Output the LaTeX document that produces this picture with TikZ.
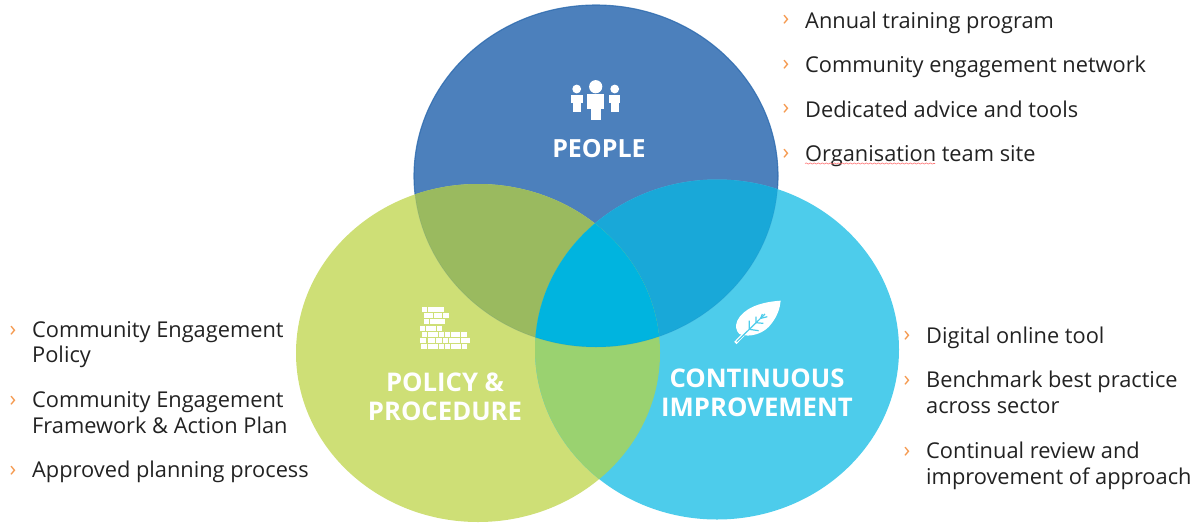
\documentclass[tikz,border=0pt]{standalone}
\usepackage{fontspec}
\setmainfont{Open Sans}
\usetikzlibrary{decorations.pathmorphing}
\definecolor{cblue}{HTML}{4C80BC}
\definecolor{cgreen}{HTML}{CEDF76}
\definecolor{ccyan}{HTML}{4DCCEB}
\definecolor{cbg}{HTML}{9ABA5F}
\definecolor{cbc}{HTML}{19A8D8}
\definecolor{cgc}{HTML}{9AD270}
\definecolor{cmid}{HTML}{00B4DF}
\definecolor{cedge}{HTML}{2A69AE}
\definecolor{corange}{HTML}{F59A50}
\definecolor{ctext}{HTML}{222222}
\tikzset{
  item/.style={anchor=base west,inner sep=0pt,text=ctext,font=\fontsize{21.8}{25}\selectfont},
  tick/.style={anchor=center,inner sep=0pt,text=corange,font=\fontsize{22}{24}\selectfont},
  title/.style={anchor=base,inner sep=0pt,text=white,font=\fontsize{25.7}{28}\selectfont\bfseries},
  icon/.style={fill=white,draw=none}
}
\newcommand{\epeople}{(596,176) ellipse [x radius=182,y radius=171]}
\newcommand{\epolicy}{(478,353) ellipse [x radius=182,y radius=169]}
\newcommand{\eimprove}{(717,349.5) ellipse [x radius=182,y radius=170]}
\newcommand{\brick}[3]{\fill[white] ({400+(#1-1)/3},{295+#3/3}) rectangle ({400+(#2+1)/3},{295+(#3+15)/3});}
\begin{document}
\begin{tikzpicture}[x=1pt,y=-1pt]
\useasboundingbox (0,0) rectangle (1199,523);
\begin{scope}
\clip (0,0) rectangle (1199,523);
\fill[cblue] \epeople;
\draw[cedge,line width=1.1pt,opacity=.75] \epeople;
\fill[cgreen] \epolicy;
\fill[ccyan] \eimprove;
\begin{scope}\clip \epeople; \fill[cbg] \epolicy; \end{scope}
\begin{scope}\clip \epeople; \fill[cbc] \eimprove; \end{scope}
\begin{scope}\clip \epolicy; \fill[cgc] \eimprove; \end{scope}
\begin{scope}\clip \epeople; \clip \epolicy; \fill[cmid] \eimprove; \end{scope}
\draw[cedge,line width=.8pt,opacity=.12] \epeople;
\end{scope}
% people icon
\fill[icon] (595.7,86.7) circle (6.6);
\fill[icon] (587.3,94) rectangle (604,109);
\fill[icon] (590.7,105) rectangle (600.7,120);
\fill[icon] (576.7,89) circle (4.4);
\fill[icon] (570.7,94.5) rectangle (582.7,103);
\fill[icon] (572.7,100) rectangle (581.3,112.3);
\fill[icon] (614.7,89) circle (4.4);
\fill[icon] (609,94.5) rectangle (620.3,103);
\fill[icon] (610.7,100) rectangle (619.3,112.3);
% brick icon
\brick{66}{80}{35}\brick{85}{112}{35}\brick{116}{130}{35}
\brick{72}{98}{54}\brick{102}{125}{54}\brick{130}{145}{54}
\brick{72}{85}{73}\brick{90}{118}{73}\brick{122}{135}{73}
\brick{62}{75}{92}\brick{80}{107}{92}\brick{112}{125}{92}
\brick{68}{80}{110}\brick{85}{112}{110}\brick{117}{130}{110}\brick{135}{150}{110}\brick{155}{180}{110}\brick{185}{200}{110}
\brick{62}{78}{129}\brick{85}{105}{129}\brick{110}{125}{129}\brick{130}{143}{129}\brick{148}{180}{129}\brick{185}{208}{129}
\brick{65}{80}{148}\brick{85}{112}{148}\brick{117}{130}{148}\brick{135}{150}{148}\brick{155}{182}{148}\brick{187}{200}{148}
% leaf icon
\begin{scope}[shift={(720,290)},x=0.3333pt,y=-0.3333pt]
\fill[icon] (182,32) .. controls (120,36) and (70,55) .. (52,92) .. controls (45,108) and (48,122) .. (58,132)
  .. controls (90,145) and (135,130) .. (155,100) .. controls (172,78) and (180,55) .. (182,32) -- cycle;
\draw[white,line width=3.2pt] (46,159) -- (70,134);
\draw[ccyan,line width=1.2pt] (50,155) -- (135,72);
\draw[ccyan,line width=1.2pt] (88,118) -- (88,92) (88,118) -- (116,122)
  (108,98) -- (108,80) (108,98) -- (130,100) (122,85) -- (127,72) (122,85) -- (142,80);
\end{scope}
% titles
\node[title,font=\fontsize{25}{28}\selectfont\bfseries] (tpeople) at (599,157) {PEOPLE};
\node[title] (tpolicy) at (445,391.3) {POLICY \&};
\node[title] (tproc) at (445,420.3) {PROCEDURE};
\node[title] (tcont) at (757,387.3) {CONTINUOUS};
\node[title] (timpr) at (757,416.3) {IMPROVEMENT};
% top-right list
\node[tick] (b1) at (786,20) {›};
\node[tick] (b2) at (786,65) {›};
\node[tick] (b3) at (786,109) {›};
\node[tick] (b4) at (786,154) {›};
\node[item] (a1) at (805,28) {Annual training program};
\node[item] (a2) at (805,72) {Community engagement network};
\node[item] (a3) at (805,117) {Dedicated advice and tools};
\node[item] (a4) at (805,161) {Organisation team site};
\draw[red!55!white,line width=.6pt,decorate,decoration={snake,amplitude=.6pt,segment length=4pt}]
  ([yshift=-2.5pt]a4.base west) -- ++(130,0);
% left list
\node[tick] (l1) at (13,331) {›};
\node[tick] (l2) at (13,401) {›};
\node[tick] (l3) at (13,471) {›};
\node[item] (c1) at (32,337) {Community Engagement};
\node[item] (c2) at (32,362.5) {Policy};
\node[item] (c3) at (32,407.5) {Community Engagement};
\node[item] (c4) at (32,433) {Framework \& Action Plan};
\node[item] (c5) at (32,477.5) {Approved planning process};
% right list
\node[tick] (r1) at (907,336.5) {›};
\node[tick] (r2) at (907,381.5) {›};
\node[tick] (r3) at (907,452) {›};
\node[item] (d1) at (926,343.3) {Digital online tool};
\node[item] (d2) at (926,387.5) {Benchmark best practice};
\node[item] (d3) at (926,413.5) {across sector};
\node[item] (d4) at (926,458.5) {Continual review and};
\node[item] (d5) at (926,484) {improvement of approach};
\end{tikzpicture}
\end{document}
